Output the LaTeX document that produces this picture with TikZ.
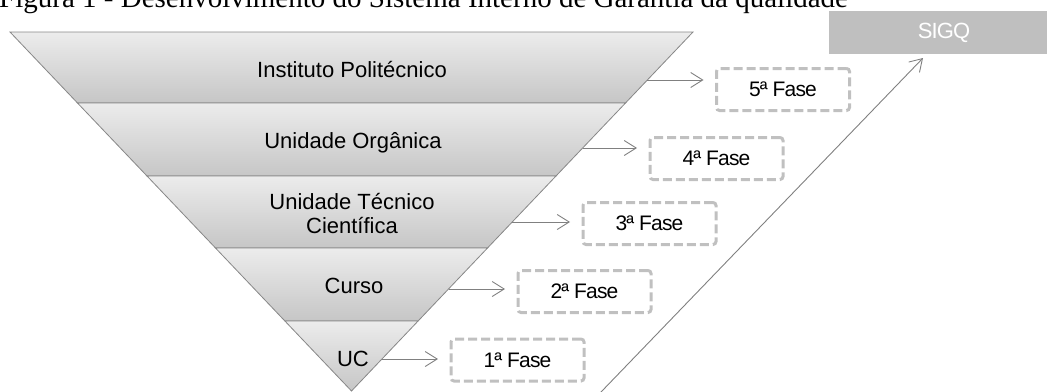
\documentclass[tikz,border=0pt]{standalone}
\usepackage{fontspec}
\setmainfont{Liberation Sans}
\newfontfamily\titlefont{Liberation Serif}
\newfontfamily\tightfont[LetterSpace=-4]{Liberation Sans}
\usetikzlibrary{arrows.meta}
\definecolor{bandtop}{RGB}{236,236,236}
\definecolor{bandbot}{RGB}{198,198,198}
\definecolor{bandline}{RGB}{135,135,135}
\definecolor{dashgray}{RGB}{192,192,192}
\definecolor{arrowgray}{RGB}{128,128,128}
\definecolor{sigqfill}{RGB}{191,191,191}
\begin{document}
\begin{tikzpicture}[x=1pt,y=-1pt,
  band/.style={draw=bandline, line width=0.8pt, top color=bandtop, bottom color=bandbot, line join=miter},
  bandlabel/.style={font=\fontsize{22}{24}\selectfont, align=center, text=black, inner sep=0pt, anchor=base},
  phase/.style={draw=dashgray, line width=3pt, dash pattern=on 9pt off 4pt, rounded corners=3pt,
    minimum width=133pt, minimum height=42pt, inner sep=0pt, font=\tightfont\fontsize{21}{23}\selectfont},
  conn/.style={draw=arrowgray, line width=0.9pt, shorten >=11.5pt,
    -{Straight Barb[length=12pt,width=15pt]}},
]
\useasboundingbox (0,0) rectangle (1047,391);
\clip (0,0) rectangle (1047,391);

% title (cut at top)
\node[anchor=base west, inner sep=0pt, font=\titlefont\fontsize{29}{30}\selectfont] (title) at (-1,7)
  {Figura 1 - Desenvolvimento do Sistema Interno de Garantia da qualidade};

% inverted pyramid bands
\path[band] (10,32) -- (693,32) -- (625.5,103) -- (77.5,103) -- cycle;
\path[band] (77.5,103) -- (625.5,103) -- (556,176) -- (147,176) -- cycle;
\path[band] (147,176) -- (556,176) -- (487.5,248) -- (215.5,248) -- cycle;
\path[band] (215.5,248) -- (487.5,248) -- (418.1,321) -- (284.9,321) -- cycle;
\path[band] (284.9,321) -- (418.1,321) -- (351.5,391) -- cycle;

\node[bandlabel] (ip) at (352,77) {Instituto Politécnico};
\node[bandlabel] (uo) at (353,148) {Unidade Orgânica};
\node[bandlabel] (utc) at (352,233) {Unidade Técnico\\Científica};
\node[bandlabel] (curso) at (354,293) {Curso};
\node[bandlabel] (uc) at (353,366) {UC};

% phase boxes
\node[phase] (f5) at (783,89.5) {5ª Fase};
\node[phase] (f4) at (716.5,158.5) {4ª Fase};
\node[phase] (f3) at (649.5,223.5) {3ª Fase};
\node[phase] (f2) at (584.5,291.5) {2ª Fase};
\node[phase] (f1) at (517.5,360) {1ª Fase};

% SIGQ
\node[fill=sigqfill, minimum width=230pt, minimum height=43pt, inner sep=0pt,
  text=white, font=\tightfont\fontsize{22}{24}\selectfont] (sigq) at (944,32.5) {SIGQ};

% arrow start points on the pyramid edge
\coordinate (s5) at (647.3,80);
\coordinate (s4) at (582.7,148);
\coordinate (s3) at (512.3,222);
\coordinate (s2) at (448.5,289);
\coordinate (s1) at (381.9,359);

\draw[conn] (s5) -- (s5 -| f5.west);
\draw[conn] (s4) -- (s4 -| f4.west);
\draw[conn] (s3) -- (s3 -| f3.west);
\draw[conn] (s2) -- (s2 -| f2.west);
\draw[conn] (s1) -- (s1 -| f1.west);

% long diagonal arrow to SIGQ
\coordinate (d0) at (599,394.1);
\coordinate (d1) at (923,58);
\draw[draw=arrowgray, line width=0.9pt, -{Straight Barb[length=12pt,width=15pt]}] (d0) -- (d1);
\end{tikzpicture}
\end{document}
